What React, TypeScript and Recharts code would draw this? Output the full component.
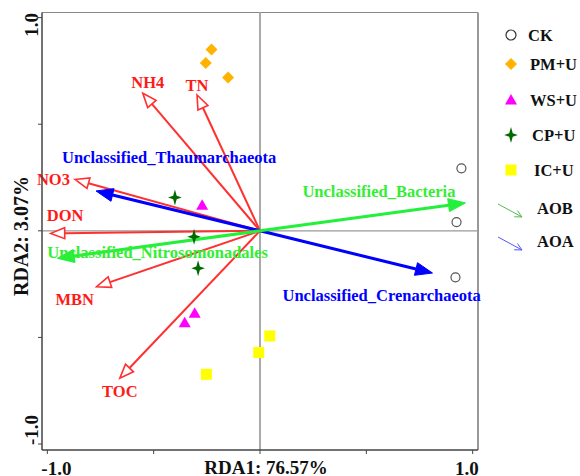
import React from 'react';
import { ScatterChart, Scatter, XAxis, YAxis, ReferenceLine, Legend, Label } from 'recharts';

// ---- data ----
const ckPoints = [
  { x: 0.947, y: 0.293 },
  { x: 0.924, y: 0.041 },
  { x: 0.919, y: -0.218 },
];
const pmPoints = [
  { x: -0.228, y: 0.851 },
  { x: -0.255, y: 0.787 },
  { x: -0.15, y: 0.719 },
];
const wsPoints = [
  { x: -0.272, y: 0.12 },
  { x: -0.307, y: -0.387 },
  { x: -0.354, y: -0.431 },
];
const cpPoints = [
  { x: -0.4, y: 0.156 },
  { x: -0.31, y: -0.028 },
  { x: -0.291, y: -0.176 },
];
const icPoints = [
  { x: 0.046, y: -0.493 },
  { x: -0.006, y: -0.571 },
  { x: -0.252, y: -0.673 },
];

const envNames = ['NH4', 'TN', 'NO3', 'DON', 'MBN', 'TOC'];
const envX = [-0.551, -0.296, -0.87, -0.984, -0.768, -0.659];
const envY = [0.645, 0.637, 0.241, -0.012, -0.262, -0.691];

const aoaNames = ['Unclassified_Thaumarchaeota', 'Unclassified_Crenarchaeota'];
const aoaX = [-0.771, 0.811];
const aoaY = [0.187, -0.198];

const aobNames = ['Unclassified_Bacteria', 'Unclassified_Nitrosomonadales'];
const aobX = [0.966, -0.953];
const aobY = [0.131, -0.129];

const axisTicks = [-1, -0.5, 0, 0.5, 1];
const xTitle = 'RDA1: 76.57%';
const yTitle = 'RDA2: 3.07%';
const legendNames = ['CK', 'PM+U', 'WS+U', 'CP+U', 'IC+U', 'AOB', 'AOA'];

// ---- layout / style (not data) ----
const FONT = '"Liberation Serif", "Times New Roman", serif';
const RED = '#ff3030';
const RED_TEXT = '#ff1a1a';
const BLUE = '#0000ff';
const GREEN = '#22f03a';
const GREEN_TEXT = '#33ee33';

const labelLayout: Record<string, { dx: number; dy: number; anchor: 'start' | 'middle' | 'end' }> = {
  NH4: { dx: 5, dy: -5, anchor: 'middle' },
  TN: { dx: 0, dy: -4, anchor: 'middle' },
  NO3: { dx: -5, dy: 6, anchor: 'end' },
  DON: { dx: -4, dy: -12, anchor: 'start' },
  MBN: { dx: -22, dy: 18, anchor: 'middle' },
  TOC: { dx: 0, dy: 19, anchor: 'middle' },
  Unclassified_Thaumarchaeota: { dx: -34, dy: -28, anchor: 'start' },
  Unclassified_Crenarchaeota: { dx: -150, dy: 28, anchor: 'start' },
  Unclassified_Bacteria: { dx: -10, dy: -6, anchor: 'end' },
  Unclassified_Nitrosomonadales: { dx: -10, dy: 0, anchor: 'start' },
};

type ArrowStyle = { color: string; textColor: string; width: number; headLen: number; headW: number; open: boolean };
const envStyle: ArrowStyle = { color: RED, textColor: RED_TEXT, width: 2, headLen: 14, headW: 5.5, open: true };
const aoaStyle: ArrowStyle = { color: BLUE, textColor: BLUE, width: 3, headLen: 17, headW: 6.5, open: false };
const aobStyle: ArrowStyle = { color: GREEN, textColor: GREEN_TEXT, width: 3, headLen: 17, headW: 6.5, open: false };

function makeArrowShape(name: string, st: ArrowStyle) {
  return (props: any) => {
    const { x1, y1, x2, y2 } = props;
    const ang = Math.atan2(y2 - y1, x2 - x1);
    const c = Math.cos(ang);
    const s = Math.sin(ang);
    const bx = x2 - st.headLen * c;
    const by = y2 - st.headLen * s;
    const px = -s * st.headW;
    const py = c * st.headW;
    const pts = `${x2},${y2} ${bx + px},${by + py} ${bx - px},${by - py}`;
    const lay = labelLayout[name];
    return (
      <g>
        <line x1={x1} y1={y1} x2={bx} y2={by} stroke={st.color} strokeWidth={st.width} />
        <polygon
          points={pts}
          fill={st.open ? '#ffffff' : st.color}
          stroke={st.color}
          strokeWidth={st.open ? 1.6 : 1}
          strokeLinejoin="miter"
        />
        <text
          x={x2 + lay.dx}
          y={y2 + lay.dy}
          textAnchor={lay.anchor}
          fill={st.textColor}
          fontFamily={FONT}
          fontWeight="bold"
          fontSize={16.5}
        >
          {name}
        </text>
      </g>
    );
  };
}

const circleShape = (p: any) => (
  <circle cx={p.cx} cy={p.cy} r={4.5} fill="#ffffff" stroke="#555555" strokeWidth={1.2} />
);
const diamondShape = (p: any) => (
  <polygon
    points={`${p.cx},${p.cy - 6} ${p.cx + 6},${p.cy} ${p.cx},${p.cy + 6} ${p.cx - 6},${p.cy}`}
    fill="#ffb300"
  />
);
const triangleShape = (p: any) => (
  <polygon
    points={`${p.cx},${p.cy - 6} ${p.cx + 6},${p.cy + 4.5} ${p.cx - 6},${p.cy + 4.5}`}
    fill="#ff00ff"
  />
);
const starPath = (cx: number, cy: number, r: number) => {
  const a = r * 0.22;
  return `M${cx},${cy - r} L${cx + a},${cy - a} L${cx + r * 0.85},${cy} L${cx + a},${cy + a} L${cx},${cy + r} L${cx - a},${cy + a} L${cx - r * 0.85},${cy} L${cx - a},${cy - a} Z`;
};
const starShape = (p: any) => <path d={starPath(p.cx, p.cy, 8)} fill="#006a00" />;
const squareShape = (p: any) => (
  <rect x={p.cx - 5.5} y={p.cy - 5.5} width={11} height={11} fill="#ffff00" />
);

const renderXTick = (props: any) => {
  const { x, payload } = props;
  const v = payload.value;
  if (v !== -1 && v !== 1) return <g />;
  return (
    <text
      x={v === -1 ? x - 6 : x + 6}
      y={475}
      textAnchor={v === -1 ? 'start' : 'end'}
      fontFamily={FONT}
      fontWeight="bold"
      fontSize={19}
      fill="#111"
    >
      {v.toFixed(1)}
    </text>
  );
};

const renderYTick = (props: any) => {
  const { y, payload } = props;
  const v = payload.value;
  if (v !== -1 && v !== 1) return <g />;
  const ty = v === 1 ? y - 4.5 : y + 1;
  return (
    <text
      x={38}
      y={ty}
      transform={`rotate(-90, 38, ${ty})`}
      textAnchor={v === 1 ? 'end' : 'start'}
      fontFamily={FONT}
      fontWeight="bold"
      fontSize={19}
      fill="#111"
    >
      {v.toFixed(1)}
    </text>
  );
};

const renderXTitle = (props: any) => (
  <text x={266} y={474} textAnchor="middle" fontFamily={FONT} fontWeight="bold" fontSize={19} fill="#111">
    {xTitle}
  </text>
);
const renderYTitle = (props: any) => (
  <text
    x={28}
    y={236}
    transform="rotate(-90, 28, 236)"
    textAnchor="middle"
    fontFamily={FONT}
    fontWeight="bold"
    fontSize={20}
    fill="#111"
  >
    {yTitle}
  </text>
);

const legendRows = [35, 64, 100, 135, 170, 208, 241];
const renderLegend = () => {
  const syms = [
    <circle key="s0" cx={21} cy={legendRows[0] - 8} r={5} fill="#fff" stroke="#333" strokeWidth={1.2} />,
    diamondShape({ cx: 21, cy: legendRows[1] - 8 }),
    triangleShape({ cx: 21, cy: legendRows[2] - 8 }),
    starShape({ cx: 21, cy: legendRows[3] - 8 }),
    squareShape({ cx: 21, cy: legendRows[4] - 8 }),
  ];
  const arrowSym = (y: number, col: string) => {
    const x1 = 8, y1 = y - 16, x2 = 32, y2 = y - 3;
    const ang = Math.atan2(y2 - y1, x2 - x1);
    const L = 7, W = 3.5;
    const bx = x2 - L * Math.cos(ang), by = y2 - L * Math.sin(ang);
    const px = -Math.sin(ang) * W, py = Math.cos(ang) * W;
    return (
      <g>
        <line x1={x1} y1={y1} x2={x2} y2={y2} stroke={col} strokeWidth={1} />
        <polyline points={`${bx + px},${by + py} ${x2},${y2} ${bx - px},${by - py}`} fill="none" stroke={col} strokeWidth={1} />
      </g>
    );
  };
  const textX = [38, 40, 40, 42, 44, 47, 47];
  return (
    <svg width={90} height={260} style={{ display: 'block' }}>
      {syms.map((s, i) => (
        <g key={'sym' + i}>{s}</g>
      ))}
      {arrowSym(legendRows[5] + 4, '#55bb55')}
      {arrowSym(legendRows[6] + 4, '#5555ff')}
      {legendNames.map((n, i) => (
        <text key={n} x={textX[i]} y={legendRows[i] - 2} fontFamily={FONT} fontWeight="bold" fontSize={16.5} fill="#111">
          {n}
        </text>
      ))}
    </svg>
  );
};

const X_DOMAIN: [number, number] = [-1.025, 1.025];
const Y_DOMAIN: [number, number] = [-1.028, 1.024];

export default function App() {
  return (
    <div style={{ position: 'absolute', left: 0, top: 0, width: 580, height: 476, background: '#fff' }}>
      <ScatterChart width={580} height={476} margin={{ top: 12.5, right: 102, left: 0, bottom: 0 }}>
        <XAxis
          type="number"
          dataKey="x"
          domain={X_DOMAIN}
          ticks={axisTicks}
          allowDataOverflow
          height={26}
          tickSize={4}
          tick={renderXTick}
          axisLine={{ stroke: '#444', strokeWidth: 1.5 }}
          tickLine={{ stroke: '#444' }}
        >
          <Label content={renderXTitle} />
        </XAxis>
        <YAxis
          type="number"
          dataKey="y"
          domain={Y_DOMAIN}
          ticks={axisTicks}
          allowDataOverflow
          width={42}
          tickSize={4}
          tick={renderYTick}
          axisLine={{ stroke: '#444', strokeWidth: 1.5 }}
          tickLine={{ stroke: '#444' }}
        >
          <Label content={renderYTitle} />
        </YAxis>
        <ReferenceLine y={Y_DOMAIN[1]} stroke="#888" strokeWidth={1.2} />
        <ReferenceLine x={X_DOMAIN[1]} stroke="#999" strokeWidth={2} />
        <ReferenceLine y={0} stroke="#999" strokeWidth={1.2} />
        <ReferenceLine x={0} stroke="#aaa" strokeWidth={2} />
        {envNames.map((n, i) => (
          <ReferenceLine
            key={n}
            segment={[{ x: 0, y: 0 }, { x: envX[i], y: envY[i] }]}
            shape={makeArrowShape(n, envStyle)}
          />
        ))}
        {aoaNames.map((n, i) => (
          <ReferenceLine
            key={n}
            segment={[{ x: 0, y: 0 }, { x: aoaX[i], y: aoaY[i] }]}
            shape={makeArrowShape(n, aoaStyle)}
          />
        ))}
        {aobNames.map((n, i) => (
          <ReferenceLine
            key={n}
            segment={[{ x: 0, y: 0 }, { x: aobX[i], y: aobY[i] }]}
            shape={makeArrowShape(n, aobStyle)}
          />
        ))}
        <Scatter name="CK" data={ckPoints} shape={circleShape} isAnimationActive={false} />
        <Scatter name="PM+U" data={pmPoints} shape={diamondShape} isAnimationActive={false} />
        <Scatter name="WS+U" data={wsPoints} shape={triangleShape} isAnimationActive={false} />
        <Scatter name="CP+U" data={cpPoints} shape={starShape} isAnimationActive={false} />
        <Scatter name="IC+U" data={icPoints} shape={squareShape} isAnimationActive={false} />
        <Legend
          layout="vertical"
          align="center"
          verticalAlign="middle"
          content={renderLegend}
          wrapperStyle={{ position: 'absolute', left: 490, top: 8, width: 90, height: 260 }}
        />
      </ScatterChart>
    </div>
  );
}
